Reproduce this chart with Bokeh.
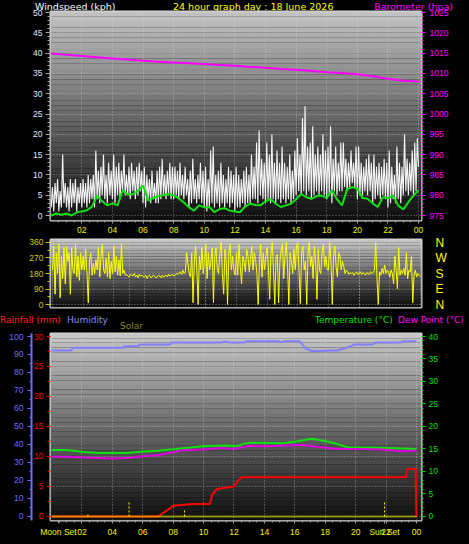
import numpy as np
from bokeh.plotting import figure
from bokeh.models import Range1d, LinearAxis, FixedTicker, BoxAnnotation, Grid, Div
from bokeh.layouts import column
from bokeh.embed import file_html
from bokeh.resources import INLINE

FONT = "Liberation Sans"
TFONT = "'DejaVu Sans',sans-serif"

# ---------------- data ----------------
hour_ticks = [2, 4, 6, 8, 10, 12, 14, 16, 18, 20, 22, 24]
hour_labels = ["02", "04", "06", "08", "10", "12", "14", "16", "18", "20", "22", "00"]
event_label_t = [0.46, 21.9]
event_label_txt = ["Moon Set", "Sun Set"]

# wind speed (kph), every 5 minutes
wind_speed = [
    2, 7, 1, 8, 3, 9, 1, 6, 2, 15, 3, 8,
    2, 7, 1, 9, 2, 8, 3, 9, 1, 7, 3, 8,
    2, 9, 3, 8, 2, 10, 3, 9, 4, 10, 2, 16,
    4, 11, 3, 12, 5, 15, 4, 10, 3, 13, 5, 11,
    4, 15, 3, 12, 5, 13, 4, 11, 6, 15, 5, 10,
    5, 12, 4, 13, 6, 11, 4, 12, 5, 13, 6, 11,
    3, 12, 2, 10, 4, 9, 3, 11, 4, 8, 3, 11,
    3, 12, 4, 14, 5, 10, 4, 11, 5, 13, 4, 12,
    4, 12, 5, 11, 4, 13, 5, 10, 4, 12, 5, 9,
    2, 11, 3, 14, 4, 9, 3, 10, 4, 13, 3, 11,
    2, 12, 1, 9, 2, 16, 3, 17, 2, 10, 3, 11,
    2, 13, 3, 10, 2, 9, 3, 12, 2, 11, 3, 10,
    1, 12, 2, 10, 2, 9, 3, 11, 2, 12, 3, 10,
    3, 15, 4, 12, 4, 18, 3, 21, 5, 14, 4, 13,
    3, 18, 4, 15, 3, 20, 4, 13, 3, 16, 4, 13,
    3, 17, 4, 13, 3, 12, 4, 15, 3, 11, 4, 16,
    5, 19, 6, 15, 5, 24, 6, 27, 5, 17, 6, 18,
    4, 22, 5, 15, 6, 17, 5, 15, 6, 20, 5, 16,
    4, 17, 5, 22, 3, 14, 6, 17, 5, 13, 6, 18,
    6, 18, 7, 14, 6, 13, 7, 16, 8, 13, 7, 17,
    4, 17, 5, 13, 5, 12, 6, 14, 5, 15, 6, 13,
    3, 15, 4, 12, 5, 13, 4, 12, 5, 14, 4, 13,
    2, 16, 3, 12, 4, 10, 3, 17, 4, 13, 3, 12,
    5, 20, 6, 14, 5, 13, 6, 16, 5, 18, 6, 19,
    12]

# average wind speed (kph), every 20 minutes
wind_avg = [
    0.0, 0.5, 0.2, 0.5, 0.0, 0.8, 1.0, 1.3, 2.2, 4.9, 3.5, 2.5,
    3.0, 2.5, 6.2, 5.2, 5.3, 6.0, 7.4, 3.7, 4.3, 4.8, 5.0, 5.3,
    5.0, 4.2, 3.2, 2.0, 1.2, 2.5, 2.0, 2.1, 0.8, 1.6, 1.8, 1.2,
    1.0, 0.8, 2.2, 2.9, 2.6, 2.5, 3.5, 4.1, 2.9, 2.1, 2.5, 2.9,
    4.0, 5.3, 4.5, 4.1, 4.8, 4.9, 4.3, 6.2, 4.0, 2.5, 6.5, 7.0,
    6.6, 4.3, 4.1, 3.0, 2.1, 4.5, 4.3, 4.9, 2.5, 1.5, 3.3, 4.9,
    6.2]

# barometer (hPa), hourly
baro = [1014.9, 1014.6, 1014.3, 1014.0, 1013.7, 1013.4, 1013.1, 1012.9,
        1012.7, 1012.5, 1012.3, 1012.1, 1011.9, 1011.6, 1011.4, 1011.1,
        1010.9, 1010.6, 1010.3, 1010.1, 1009.8, 1009.3, 1008.7, 1008.2, 1008.0]

# wind direction (degrees), every 5 minutes
wind_dir = [
    200, 340, 60, 300, 180, 350, 40, 280, 150, 330, 120, 340,
    250, 300, 60, 330, 200, 180, 350, 160, 280, 140, 300, 200,
    280, 200, 320, 180, 10, 260, 300, 170, 240, 180, 260, 200,
    330, 160, 280, 350, 200, 180, 270, 160, 300, 150, 250, 180,
    340, 190, 280, 170, 260, 165, 350, 180, 200, 170, 175, 165,
    160, 175, 170, 165, 180, 160, 170, 155, 175, 165, 170, 160,
    160, 170, 150, 165, 170, 155, 160, 170, 165, 155, 160, 170,
    165, 155, 170, 160, 165, 170, 160, 175, 165, 170, 175, 165,
    170, 180, 175, 185, 190, 175, 200, 180, 190, 300, 240, 180,
    160, 300, 10, 250, 340, 200, 0, 280, 200, 330, 180, 260,
    350, 150, 300, 200, 250, 330, 10, 280, 330, 200, 180, 300,
    360, 180, 60, 320, 250, 0, 300, 350, 200, 280, 200, 170,
    300, 170, 350, 220, 120, 280, 250, 190, 320, 280, 190, 260,
    340, 200, 300, 260, 180, 0, 250, 350, 160, 300, 200, 280,
    330, 220, 30, 300, 360, 200, 0, 280, 290, 10, 250, 320,
    350, 150, 280, 360, 220, 0, 300, 250, 180, 320, 200, 340,
    360, 200, 5, 300, 340, 200, 250, 0, 300, 360, 220, 280,
    150, 340, 250, 30, 320, 200, 180, 300, 350, 220, 280, 200,
    200, 360, 250, 0, 280, 340, 220, 160, 300, 280, 200, 250,
    220, 180, 200, 190, 175, 185, 180, 185, 170, 180, 190, 175,
    180, 190, 175, 185, 180, 170, 185, 180, 175, 190, 180, 185,
    200, 360, 150, 0, 190, 170, 210, 180, 230, 180, 200, 190,
    160, 200, 180, 120, 280, 200, 90, 330, 170, 200, 180, 210,
    170, 300, 150, 200, 190, 280, 10, 170, 200, 160, 180, 170,
    160]

hum_t = [0, 1.3, 1.4, 4.7, 4.8, 5.7, 5.8, 7.8, 7.9, 11.2, 11.4, 11.7, 12.7, 12.8,
         14.9, 15.1, 15.3, 16.3, 16.7, 17.1, 18.5, 18.8, 19.5, 19.9, 21.1, 21.3, 23.0, 23.1, 24]
hum_v = [92.2, 92.2, 93.7, 93.7, 94.6, 94.6, 95.5, 95.5, 96.7, 96.7, 97.2, 96.7, 96.7, 97.4,
         97.4, 96.7, 97.4, 97.4, 93.5, 91.8, 92.2, 92.2, 94.0, 95.5, 95.5, 96.7, 96.7, 97.4, 97.4]

temp_t = [0, 1, 2, 3, 4, 5, 5.8, 7, 8.2, 9, 9.9, 11.5, 12.2, 12.8, 13.2, 15.2, 16, 17.1, 17.8, 18.7, 19.5, 21.7, 24]
temp_v = [14.8, 14.8, 14.4, 14.1, 14.1, 14.1, 14.4, 14.6, 15.0, 15.3, 15.6, 15.8, 15.6, 16.3, 16.4, 16.3, 16.6, 17.3, 16.9, 16.2, 15.4, 15.3, 15.0]

dew_t = [0, 1, 2, 3, 4, 5, 6, 7, 8.6, 10, 11.1, 12, 13, 14, 15, 16.5, 17.5, 18.7, 20, 21.7, 23, 24]
dew_v = [13.3, 13.3, 13.1, 13.0, 12.9, 13.0, 13.4, 13.6, 14.7, 14.9, 15.2, 15.0, 15.7, 15.6, 15.7, 15.9, 15.5, 15.0, 15.0, 14.9, 14.5, 14.6]

rain_t = [0, 7.0, 7.3, 7.7, 8.0, 9.3, 10.4, 10.6, 10.9, 12.0, 12.2, 12.5, 23.3, 23.4, 23.95, 24.0]
rain_v = [0, 0, 0.5, 1.2, 1.8, 2.1, 2.1, 3.8, 4.6, 5.0, 5.8, 6.55, 6.55, 7.9, 7.9, 0]

solar_t = [0, 24]
solar_v = [0, 0]

event_t = [2.4, 5.1, 8.75, 21.9]
event_top = [0.6, 2.6, 1.2, 2.6]

t_speed = np.arange(len(wind_speed)) / 12.0
t_avg = np.arange(len(wind_avg)) / 3.0
t_baro = np.arange(len(baro)) * 1.0
t_dir = np.arange(len(wind_dir)) / 12.0

W = 469


def gray(g):
    g = int(max(0, min(255, g)))
    return "#%02x%02x%02x" % (g, g, g)


def add_gradient(p, y0, y1, top_g, bot_g, n=40):
    edges = np.linspace(y0, y1, n + 1)
    for i in range(n):
        f = (i + 0.5) / n
        p.add_layout(BoxAnnotation(bottom=edges[i], top=edges[i + 1],
                                   fill_color=gray(bot_g + (top_g - bot_g) * f),
                                   fill_alpha=1, line_color=None, level="image"))


def style_axis(ax, color, tick_color=None, size="8.5px"):
    tc = tick_color or color
    ax.major_label_text_color = color
    ax.major_label_text_font = FONT
    ax.major_label_text_font_size = size
    ax.major_tick_line_color = tc
    ax.minor_tick_line_color = tc
    ax.axis_line_color = None
    ax.major_tick_in = 0
    ax.minor_tick_in = 0


def base_fig(height, xr, yr, ml, mr, mt, mb, xaxis=True, border_alpha=1.0):
    p = figure(width=W, height=height, x_range=Range1d(*xr), y_range=Range1d(*yr),
               output_backend="svg", toolbar_location=None,
               min_border_left=ml, min_border_right=mr, min_border_top=mt, min_border_bottom=mb,
               background_fill_color="black", border_fill_color="black",
               border_fill_alpha=border_alpha,
               outline_line_color="#d4d4d4", outline_line_width=2,
               x_axis_location="below" if xaxis else None)
    p.grid.grid_line_color = "#d8d8d8"
    p.grid.grid_line_alpha = 0.55
    p.grid.grid_line_dash = "1 2"
    return p


def text_row(height, items):
    spans = []
    for txt, pos, top, color, size in items:
        spans.append('<span style="position:absolute;%s;top:%dpx;color:%s;font-size:%s;">%s</span>'
                     % (pos, top, color, size, txt))
    html = ('<div style="position:relative;width:%dpx;height:%dpx;overflow:visible;'
            'font-family:%s;line-height:1;white-space:nowrap;">%s</div>'
            % (W, height, TFONT, "".join(spans)))
    return Div(text=html, width=W, height=height, margin=(0, 0, 0, 0),
               styles={"overflow": "visible"})


# ---------------- title row ----------------
title_div = text_row(9, [
    ("Windspeed (kph)", "left:35px", -1, "#ffffff", "9.5px"),
    ("24 hour graph day : 18 June 2026", "left:173px", -1, "#ffff00", "9.5px"),
    ("Barometer (hpa)", "right:16px", -1, "#ff00ff", "9.5px"),
])

# ---------------- top panel: wind + barometer ----------------
p1 = base_fig(226, (-0.045, 24.19), (-1.23, 50.25), 42, 48, 2, 15, border_alpha=0.0)
add_gradient(p1, -1.23, 50.25, 196, 14)
p1.xaxis.ticker = FixedTicker(ticks=hour_ticks, minor_ticks=list(np.arange(0.5, 24.01, 0.5)))
p1.xaxis.major_label_overrides = dict(zip(hour_ticks, hour_labels))
style_axis(p1.xaxis[0], "#f0f000", "#a0a0a0")
p1.xaxis.major_tick_out = 3
p1.xaxis.minor_tick_out = 2
p1.xaxis.major_label_standoff = 3
p1.yaxis.ticker = FixedTicker(ticks=list(range(0, 51, 5)), minor_ticks=list(range(0, 51)))
style_axis(p1.yaxis[0], "#e4ecff", "#a0a0a0")
p1.yaxis.major_tick_out = 5
p1.yaxis.minor_tick_out = 3
p1.yaxis.major_label_standoff = 3
p1.xgrid.ticker = FixedTicker(ticks=hour_ticks)

p1.extra_y_ranges = {"baro": Range1d(975 - 1.23, 1025.25)}
bax = LinearAxis(y_range_name="baro",
                 ticker=FixedTicker(ticks=list(range(975, 1026, 5)), minor_ticks=list(range(975, 1026))))
style_axis(bax, "#ff00ff")
bax.major_tick_out = 4
bax.minor_tick_out = 2
bax.major_label_standoff = 4
p1.add_layout(bax, "right")

p1.line(t_speed, wind_speed, line_color="#ffffff", line_width=1.1, line_alpha=0.95)
p1.line(t_avg, wind_avg, line_color="#10e010", line_width=2)
p1.line(t_baro, baro, y_range_name="baro", line_color="#ff00ff", line_width=2)

# ---------------- middle panel: wind direction ----------------
p2 = base_fig(78, (-0.13, 24.07), (-17.4, 377.4), 48, 45, 4, 6, xaxis=False)
add_gradient(p2, -17.4, 377.4, 200, 10, n=24)
p2.add_layout(Grid(dimension=0, ticker=FixedTicker(ticks=hour_ticks), grid_line_color="#d8d8d8",
                   grid_line_alpha=0.55, grid_line_dash="1 2"))
p2.yaxis.ticker = FixedTicker(ticks=[0, 90, 180, 270, 360], minor_ticks=list(range(0, 361, 45)))
style_axis(p2.yaxis[0], "#d0d000")
p2.yaxis.major_tick_out = 5
p2.yaxis.minor_tick_out = 3
p2.yaxis.major_label_standoff = 2
dax = LinearAxis(ticker=FixedTicker(ticks=[0, 90, 180, 270, 360], minor_ticks=[]),
                 major_label_overrides={0: "N", 90: "E", 180: "S", 270: "W", 360: "N"})
style_axis(dax, "#ffff00", size="12px")
dax.major_tick_line_color = None
dax.major_tick_out = 0
dax.major_label_standoff = 14
p2.add_layout(dax, "right")
p2.line(t_dir, wind_dir, line_color="#ffff00", line_width=1.0)

# ---------------- legend row ----------------
legend_div = text_row(19, [
    ("Rainfall (mm)", "left:0px", 3, "#ff2020", "9px"),
    ("Humidity", "left:67px", 3, "#8c8cff", "9px"),
    ("Solar", "left:120px", 9, "#8c8c20", "9px"),
    ("Temperature (°C)", "left:315px", 3, "#00e000", "9px"),
    ("Dew Point (°C)", "left:398px", 3, "#ff00ff", "9px"),
])

# ---------------- bottom panel ----------------
p3 = base_fig(212, (-0.065, 24.33), (-0.667, 30.5), 50, 46, 1, 24)
add_gradient(p3, -0.667, 30.5, 200, 14)
bottom_ticks = hour_ticks + event_label_t
bottom_over = dict(zip(hour_ticks, hour_labels))
bottom_over.update(dict(zip(event_label_t, event_label_txt)))
p3.xaxis.ticker = FixedTicker(ticks=bottom_ticks, minor_ticks=list(np.arange(0.5, 24.01, 0.5)))
p3.xaxis.major_label_overrides = bottom_over
style_axis(p3.xaxis[0], "#f0f000", "#a0a0a0")
p3.xaxis.major_tick_out = 3
p3.xaxis.minor_tick_out = 2
p3.xaxis.major_label_standoff = 3
p3.xgrid.ticker = FixedTicker(ticks=hour_ticks)

p3.yaxis.ticker = FixedTicker(ticks=list(range(0, 31, 5)), minor_ticks=list(np.arange(0, 30.1, 2.5)))
style_axis(p3.yaxis[0], "#ff0000")
p3.yaxis.major_tick_out = 4
p3.yaxis.minor_tick_out = 3
p3.yaxis.major_label_standoff = 3

p3.extra_y_ranges = {"hum": Range1d(-0.667 * 10 / 3, 30.5 * 10 / 3),
                     "temp": Range1d(-0.667 * 4 / 3, 30.5 * 4 / 3)}
hax = LinearAxis(y_range_name="hum",
                 ticker=FixedTicker(ticks=list(range(0, 101, 10)), minor_ticks=list(range(0, 101, 5))))
style_axis(hax, "#6c6cff")
hax.axis_line_color = "#6c6cff"
hax.axis_line_width = 2
hax.major_tick_out = 4
hax.minor_tick_out = 2
hax.major_label_standoff = 4
p3.add_layout(hax, "left")

tax = LinearAxis(y_range_name="temp",
                 ticker=FixedTicker(ticks=list(range(0, 41, 5)), minor_ticks=list(range(0, 41))))
style_axis(tax, "#00e000")
tax.major_tick_out = 4
tax.minor_tick_out = 2
tax.major_label_standoff = 3
p3.add_layout(tax, "right")

p3.line(hum_t, hum_v, y_range_name="hum", line_color="#8080ff", line_width=2)
p3.line(temp_t, temp_v, y_range_name="temp", line_color="#10e010", line_width=2)
p3.line(dew_t, dew_v, y_range_name="temp", line_color="#e000e0", line_width=2)
p3.line(rain_t, rain_v, line_color="#ff0000", line_width=2)
p3.line(solar_t, solar_v, line_color="#ffff00", line_alpha=0.5, line_width=2)
p3.segment(x0=event_t, y0=[0] * len(event_t), x1=event_t, y1=event_top,
           line_color="#ffff00", line_dash="2 2", line_width=1)

layout = column(title_div, p1, p2, legend_div, p3, spacing=0,
                styles={"background-color": "black"})
open("out.html", "w").write(file_html(layout, INLINE))
